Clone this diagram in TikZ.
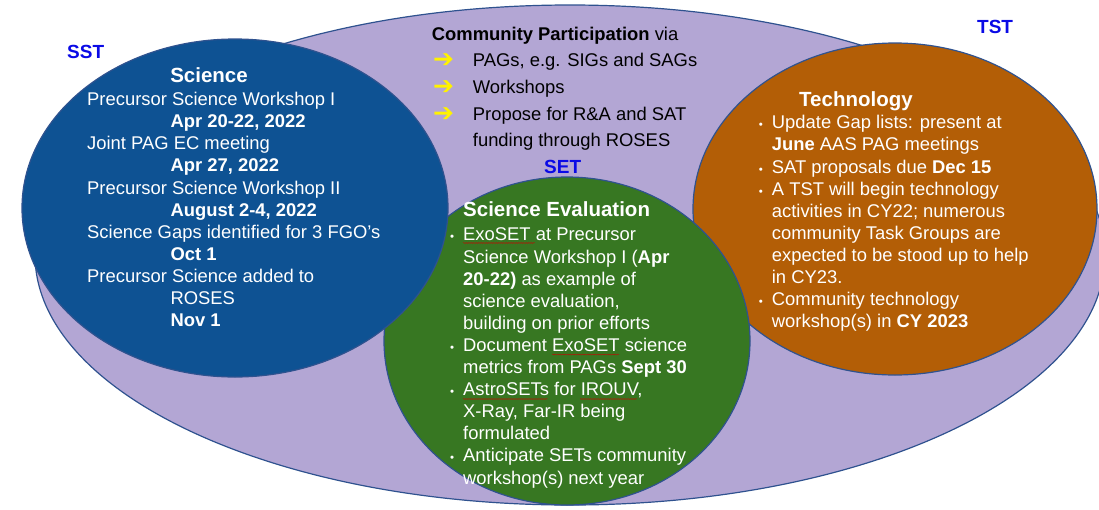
\documentclass[tikz,border=0pt]{standalone}
\usepackage{fontspec}
\setmainfont{Liberation Sans}
\newfontfamily\arrowfont{DejaVu Sans}
\usepackage{tikz}
\usetikzlibrary{shapes.geometric}
\usetikzlibrary{decorations.pathmorphing}
\definecolor{lavender}{RGB}{179,166,212}
\definecolor{sciblue}{RGB}{14,82,147}
\definecolor{evalgreen}{RGB}{55,119,34}
\definecolor{techorange}{RGB}{179,94,6}
\definecolor{rimblue}{RGB}{47,82,143}
\definecolor{teamblue}{RGB}{10,10,230}
\tikzset{blob/.style = {shape=ellipse,draw=rimblue,line width=1.2pt,inner sep=0pt}}
\tikzset{team/.style = {text=teamblue,font=\fontsize{19}{19}\selectfont\bfseries,anchor=base west,inner sep=0pt}}
\tikzset{body/.style = {text=white,font=\fontsize{18.4}{22.1}\selectfont,align=left,anchor=base west,inner sep=0pt}}
\tikzset{head/.style = {text=white,font=\fontsize{20.5}{20.5}\selectfont\bfseries,anchor=base west,inner sep=0pt}}
\tikzset{typo/.style = {red!80!black,line width=0.4pt,decorate,decoration={snake,amplitude=0.5pt,segment length=2.5pt}}}
\newcommand{\dotitem}{\llap{\makebox[13pt][l]{\fontsize{11.5}{11.5}\selectfont •}}}
\newcommand{\yarrow}{\makebox[39.7pt][l]{\raisebox{-1pt}{\textcolor{yellow}{\arrowfont\fontsize{25}{25}\selectfont ➔}}}}
\begin{document}
\begin{tikzpicture}[x=1pt,y=-1pt]
\useasboundingbox (0,0) rectangle (1099,509);
\node[blob, fill=lavender, minimum width=1070pt, minimum height=500pt] (community) at (570,255) {};
\node[blob, fill=techorange, minimum width=404pt, minimum height=332pt] (tst) at (895,209) {};
\node[blob, fill=evalgreen, minimum width=366pt, minimum height=328pt] (set) at (567,341) {};
\node[blob, fill=sciblue, minimum width=426pt, minimum height=338pt] (sst) at (235,208) {};

\node[team] (sstlabel) at (67,58) {SST};
\node[team] (tstlabel) at (977,33) {TST};
\node[team] (setlabel) at (544,173.5) {SET};

\node[body, text=black, font=\fontsize{18.4}{26.7}\selectfont] (comtitle) at (431.7,40) {\textbf{Community Participation} via};
\node[body, text=black, font=\fontsize{18.4}{26.7}\selectfont] (comtext) at (433,146.8) {\yarrow PAGs, e.g. SIGs and SAGs\\
\yarrow Workshops\\
\yarrow Propose for R\&A and SAT\\
\hspace*{39.7pt}funding through ROSES};

\node[head, anchor=base] (scititle) at (209,82) {Science};
\node[body] (scitext) at (87,326.6) {Precursor Science Workshop I\\
\hspace*{83.4pt}\textbf{Apr 20-22, 2022}\\
Joint PAG EC meeting\\
\hspace*{83.4pt}\textbf{Apr 27, 2022}\\
Precursor Science Workshop II\\
\hspace*{83.4pt}\textbf{August 2-4, 2022}\\
Science Gaps identified for 3 FGO’s\\
\hspace*{83.4pt}\textbf{Oct 1}\\
Precursor Science added to\\
\hspace*{83.4pt}ROSES\\
\hspace*{83.4pt}\textbf{Nov 1}};

\node[head] (settitle) at (463,216.7) {Science Evaluation};
\node[body] (settext) at (463,484) {\dotitem ExoSET at Precursor\\
Science Workshop I (\textbf{Apr}\\
\textbf{20-22)} as example of\\
science evaluation,\\
building on prior efforts\\
\dotitem Document ExoSET science\\
metrics from PAGs \textbf{Sept 30}\\
\dotitem AstroSETs for IROUV,\\
X-Ray, Far-IR being\\
formulated\\
\dotitem Anticipate SETs community\\
workshop(s) next year};
\foreach \a/\b/\y in {463/535/243, 552/619/354.5, 463/548/399, 580/637/399}
  \draw[typo] (\a,\y) -- (\b,\y);

\node[head] (tsttitle) at (799,106) {Technology};
\node[body] (tsttext) at (771.7,327.7) {\dotitem Update Gap lists: present at\\
\textbf{June} AAS PAG meetings\\
\dotitem SAT proposals due \textbf{Dec 15}\\
\dotitem A TST will begin technology\\
activities in CY22; numerous\\
community Task Groups are\\
expected to be stood up to help\\
in CY23.\\
\dotitem Community technology\\
workshop(s) in \textbf{CY 2023}};
\end{tikzpicture}
\end{document}
